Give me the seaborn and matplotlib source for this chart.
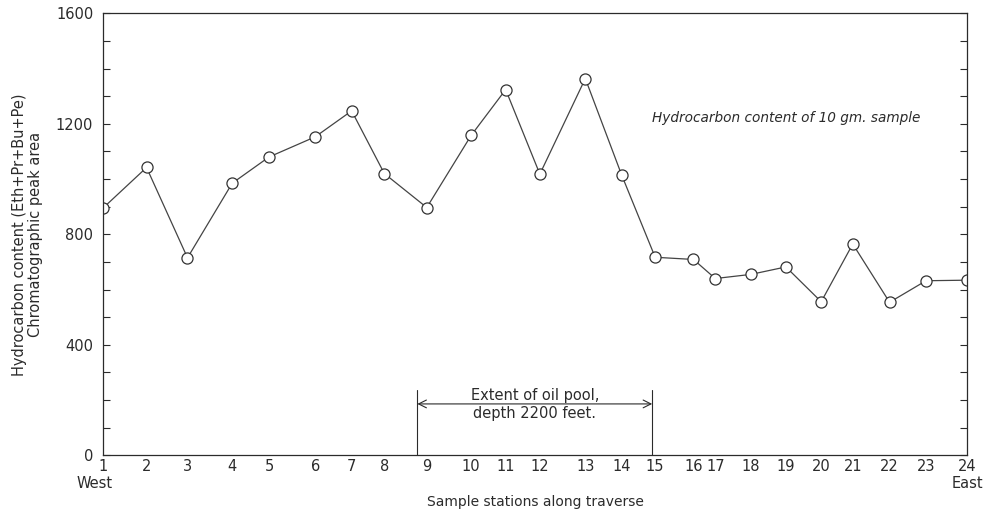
import matplotlib
matplotlib.use("Agg")
import matplotlib.pyplot as plt
import seaborn as sns
import pandas as pd
from matplotlib.ticker import MultipleLocator

# --- data -------------------------------------------------------------
stations = list(range(1, 25))
# position of each station along the traverse (relative distance units)
station_pos = [1.00, 2.16, 3.25, 4.44, 5.42, 6.65, 7.62, 8.49, 9.62, 10.80,
               11.72, 12.63, 13.84, 14.81, 15.70, 16.72, 17.30, 18.25, 19.18,
               20.12, 20.96, 21.94, 22.91, 24.00]
peak_area = [895, 1042, 715, 985, 1080, 1153, 1247, 1020, 897, 1158,
             1324, 1018, 1364, 1014, 717, 709, 640, 655, 682,
             556, 765, 554, 632, 634]
tick_labels = [str(s) for s in stations]
end_labels = ["West", "East"]
pool_start, pool_end = 9.37, 15.62

df = pd.DataFrame({"pos": station_pos, "area": peak_area})

# --- figure -----------------------------------------------------------
sns.set_theme(style="white")
plt.rcParams["font.family"] = ["DejaVu Sans"]
ink = "#2b2b2b"

fig = plt.figure(figsize=(9.94, 5.14), dpi=100)
ax = fig.add_axes([0.1036, 0.1142, 0.8692, 0.8598])

sns.lineplot(data=df, x="pos", y="area", ax=ax, color="#444444", linewidth=0.9,
             marker="o", markersize=8, markerfacecolor="white",
             markeredgecolor="#333333", markeredgewidth=0.9)

ax.set_xlim(station_pos[0], station_pos[-1])
ax.set_ylim(0, 1600)

ax.set_xticks(station_pos)
ax.set_xticklabels(tick_labels, fontsize=10.5, color=ink)
ax.yaxis.set_major_locator(MultipleLocator(400))
ax.yaxis.set_minor_locator(MultipleLocator(100))
ax.tick_params(axis="x", direction="in", length=9, width=0.8, color=ink, pad=3)
ax.tick_params(axis="y", which="both", direction="in", length=5, width=0.8,
               color=ink, left=True, right=True, labelsize=10.5, labelcolor=ink, pad=7)

# West / East under the end stations
xtr = ax.get_xaxis_transform()
ax.text(station_pos[0] - 0.22, -0.063, end_labels[0], transform=xtr,
        ha="center", va="center", fontsize=10.5, color=ink)
ax.text(station_pos[-1], -0.063, end_labels[1], transform=xtr,
        ha="center", va="center", fontsize=10.5, color=ink)

for sp in ax.spines.values():
    sp.set_color(ink)
    sp.set_linewidth(0.9)
    sp.set_visible(True)

ax.set_xlabel("Sample stations along traverse", fontsize=10, color=ink, labelpad=15)
ax.set_ylabel("Hydrocarbon content (Eth+Pr+Bu+Pe)\nChromatographic peak area",
              fontsize=10.5, color=ink, labelpad=9, linespacing=1.1)

# oil pool extent bracket
ax.plot([pool_start, pool_start], [0, 235], color=ink, linewidth=0.8)
ax.plot([pool_end, pool_end], [0, 235], color=ink, linewidth=0.8)
ax.annotate("", xy=(pool_start, 186), xytext=(pool_end, 186),
            arrowprops=dict(arrowstyle="<->", color=ink, linewidth=0.8,
                            shrinkA=0, shrinkB=0, mutation_scale=14))
ax.text((pool_start + pool_end) / 2, 216, "Extent of oil pool,",
        ha="center", va="center", fontsize=10.5, color=ink)
ax.text((pool_start + pool_end) / 2, 150, "depth 2200 feet.",
        ha="center", va="center", fontsize=10.5, color=ink)

ax.text(19.2, 1222, "Hydrocarbon content of 10 gm. sample", ha="center",
        va="center", fontsize=9.8, style="italic", color=ink)

fig.savefig("out.png", dpi=100)
